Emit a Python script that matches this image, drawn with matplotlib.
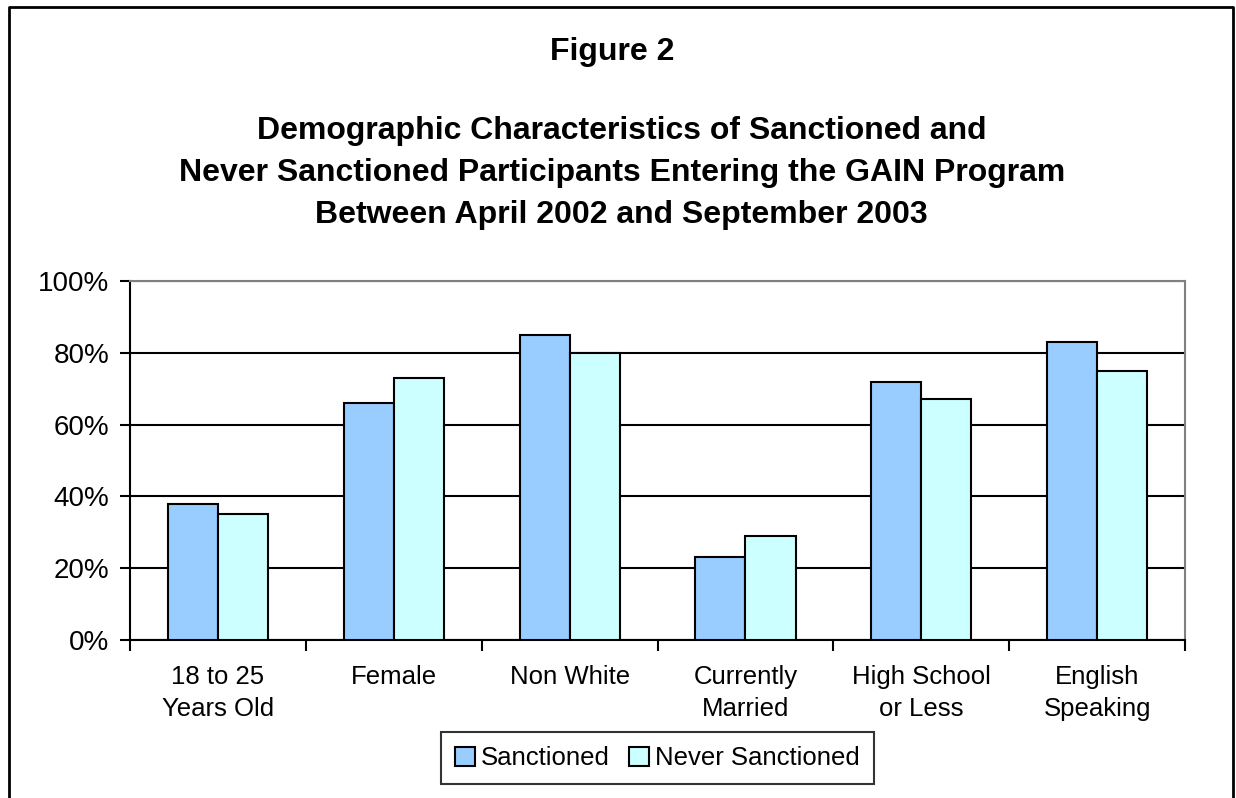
import numpy as np
import matplotlib
matplotlib.use("Agg")
import matplotlib.pyplot as plt
from matplotlib.lines import Line2D
from matplotlib.ticker import FixedLocator, PercentFormatter

plt.rcParams['font.family'] = ['Liberation Sans', 'DejaVu Sans']

# -------------------- Datos --------------------
categories = ["18 to 25\nYears Old", "Female", "Non White",
              "Currently\nMarried", "High School\nor Less", "English\nSpeaking"]
sanctioned = [38, 66, 85, 23, 72, 83]
never_sanctioned = [35, 73, 80, 29, 67, 75]
series_names = ["Sanctioned", "Never Sanctioned"]
yticks = [0, 20, 40, 60, 80, 100]

# -------------------- Figura --------------------
fig = plt.figure(figsize=(12.36, 7.98), dpi=100)
ax = fig.add_axes([0.1052, 0.198, 0.8536, 0.4499])

x = np.arange(len(categories))
w = 0.285
ax.bar(x - w / 2, sanctioned, w, color="#99CCFF", edgecolor="black",
       linewidth=1.5, label=series_names[0], zorder=3)
ax.bar(x + w / 2, never_sanctioned, w, color="#CCFFFF", edgecolor="black",
       linewidth=1.5, label=series_names[1], zorder=3)

ax.set_xlim(-0.5, len(categories) - 0.5)
ax.set_ylim(0, 100)
ax.set_yticks(yticks)
ax.yaxis.set_major_formatter(PercentFormatter(decimals=0))
ax.yaxis.grid(True, color="black", linewidth=1.5, zorder=0)

# ticks en los limites de categoria, etiquetas en el centro
ax.xaxis.set_major_locator(FixedLocator(np.arange(-0.5, len(categories), 1.0)))
ax.xaxis.set_minor_locator(FixedLocator(x))
ax.set_xticklabels([])
ax.set_xticklabels(categories, minor=True)
plt.setp(ax.get_xticklabels(minor=True), linespacing=1.4)
ax.tick_params(axis="x", which="major", length=8, width=1.5, direction="out")
ax.tick_params(axis="x", which="minor", length=0, pad=18, labelsize=18.5)
ax.tick_params(axis="y", length=7, width=1.5, direction="out", labelsize=20, pad=8)

for s in ["left", "bottom"]:
    ax.spines[s].set_color("black")
    ax.spines[s].set_linewidth(1.5)
for s in ["top", "right"]:
    ax.spines[s].set_color("#808080")
    ax.spines[s].set_linewidth(1.5)

leg = ax.legend(loc="center", bbox_to_anchor=(0.5, -0.329), ncol=2,
                fontsize=18.5, frameon=True, fancybox=False, edgecolor="black",
                handlelength=0.75, handleheight=0.75, handletextpad=0.25,
                columnspacing=0.75, borderpad=0.55, borderaxespad=0)
leg.get_frame().set_linewidth(1.5)

# -------------------- Titulos --------------------
fig.text(0.495, 1 - 52 / 798, "Figure 2", ha="center", va="center",
         fontsize=23, fontweight="bold")
title_lines = ["Demographic Characteristics of Sanctioned and",
               "Never Sanctioned Participants Entering the GAIN Program",
               "Between April 2002 and September 2003"]
for i, line in enumerate(title_lines):
    fig.text(0.503, 1 - (131 + 42 * i) / 798, line, ha="center", va="center",
             fontsize=23, fontweight="bold")

# marco exterior (sin borde inferior)
fx = [9 / 1236, 9 / 1236, 1233 / 1236, 1233 / 1236]
fy = [0, 1 - 7 / 798, 1 - 7 / 798, 0]
fig.add_artist(Line2D(fx, fy, transform=fig.transFigure, color="black", linewidth=2))

fig.savefig("out.png", dpi=100)
